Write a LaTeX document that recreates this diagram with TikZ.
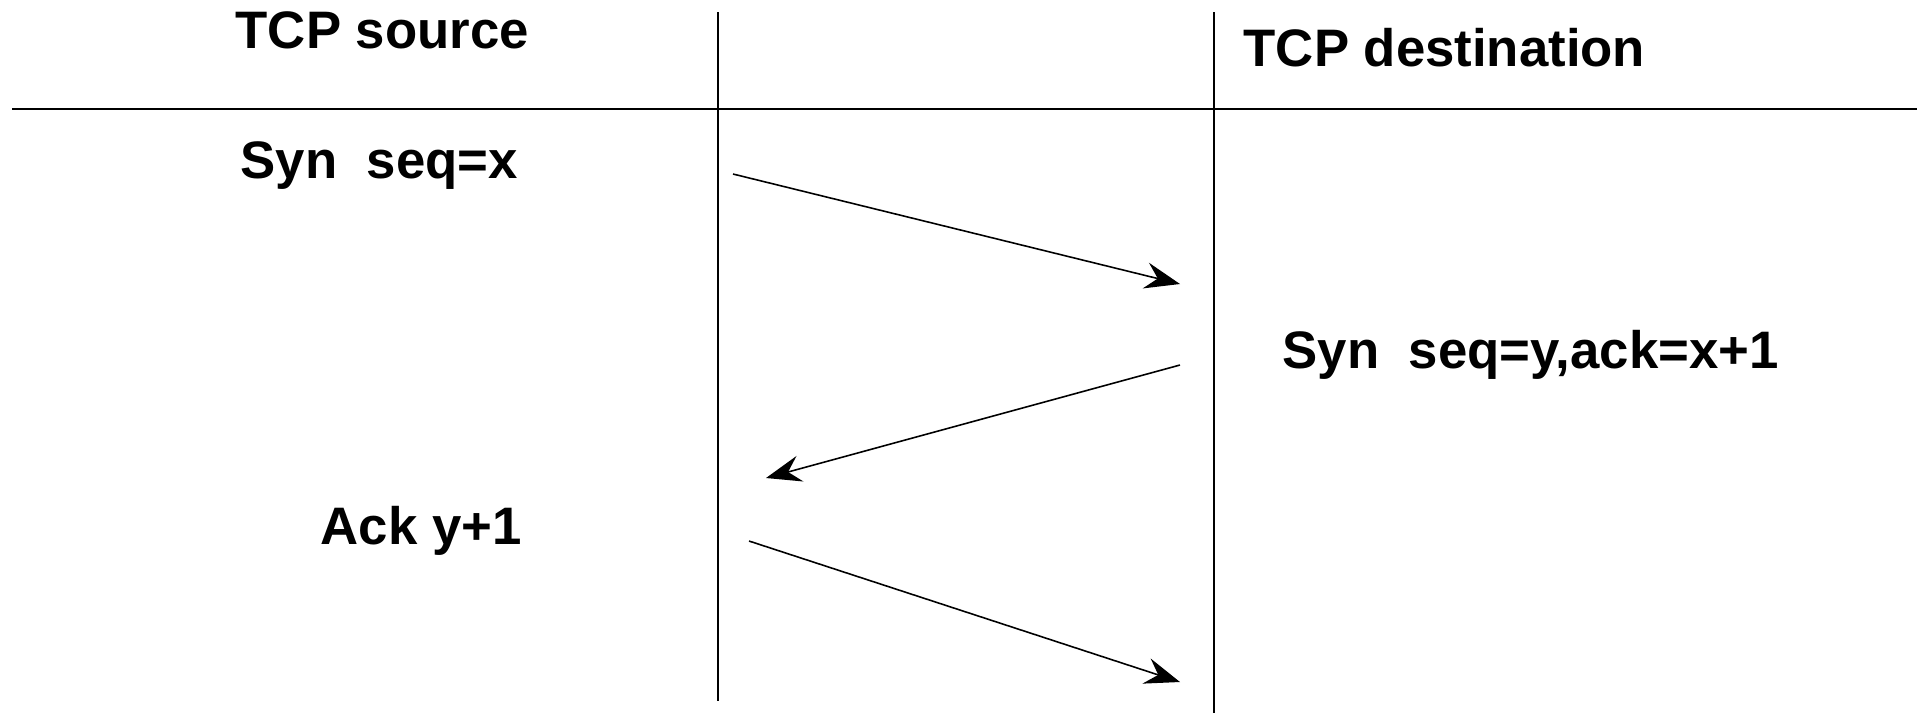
\documentclass[tikz,border=0pt]{standalone}
\usepackage{fontspec}
\setmainfont{Liberation Sans}
\usetikzlibrary{arrows.meta}
\begin{document}
\begin{tikzpicture}[x=0.01cm,y=-0.01cm]
        \useasboundingbox (0,0) rectangle (1921,714);

        \begin{scope}[every node/.style={anchor=base west, inner sep=0pt, font=\bfseries\fontsize{15}{18}\selectfont}]
          \node (src)  at (235,48)  {TCP source};
          \node (dst)  at (1243,66) {TCP destination};
          \node (syn)  at (240,178) {Syn\ \ seq=x};
          \node (synack) at (1282,368) {Syn\ \ seq=y,ack=x+1};
          \node (ack)  at (320,544) {Ack y+1};
        \end{scope}

        % time lines
        \coordinate (hl) at (12,109);
        \coordinate (hr) at (1917,109);
        \coordinate (at) at (718,12);
        \coordinate (ab) at (718,701);
        \coordinate (bt) at (1214,12);
        \coordinate (bb) at (1214,713);
        \draw[line width=0.8pt] (hl) -- (hr);
        \draw[line width=0.65pt] (at) -- (ab);
        \draw[line width=0.65pt] (bt) -- (bb);

        % segments
        \coordinate (1) at (733,174);
        \coordinate (2) at (1180,284);
        \coordinate (3) at (1180,365);
        \coordinate (4) at (766,478);
        \coordinate (5) at (749,541);
        \coordinate (6) at (1180,682);
        \begin{scope}[every path/.style={draw, line width=0.45pt, -{Stealth[length=10pt,width=7.5pt,inset=3.5pt]}}]
          \path (1) -- (2);
          \path (3) -- (4);
          \path (5) -- (6);
        \end{scope}

      \end{tikzpicture}
\end{document}
